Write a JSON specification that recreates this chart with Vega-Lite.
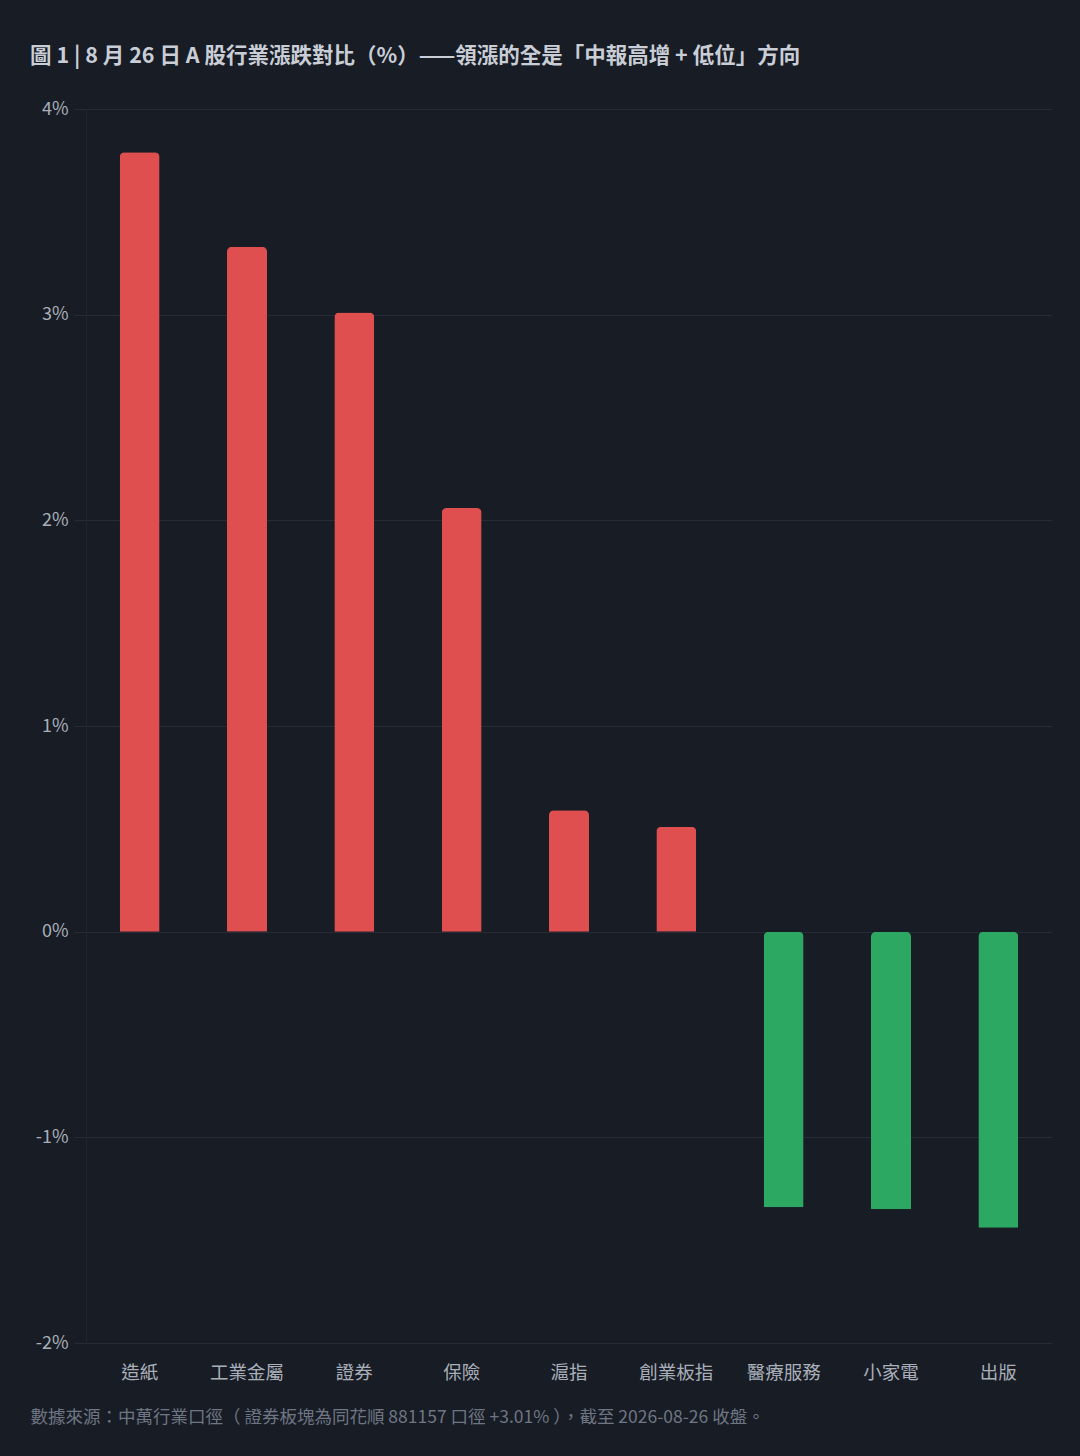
{
  "$schema": "https://vega.github.io/schema/vega-lite/v6.json",
  "autosize": {"type": "none"},
  "width": 966,
  "height": 1234,
  "padding": {"left": 86, "top": 109, "right": 28, "bottom": 113},
  "background": "#181c25",
  "config": {
    "font": "Noto Sans CJK TC",
    "view": {"stroke": null}
  },
  "title": {
    "text": "圖 1 | 8 月 26 日 A 股行業漲跌對比（%）——領漲的全是「中報高增 + 低位」方向",
    "anchor": "start",
    "frame": "group",
    "dx": -56,
    "offset": 33,
    "fontSize": 21.5,
    "fontWeight": 600,
    "color": "#c9ced6"
  },
  "data": {
    "values": [
      {"sector": "造紙", "pct": 3.79},
      {"sector": "工業金屬", "pct": 3.33},
      {"sector": "證券", "pct": 3.01},
      {"sector": "保險", "pct": 2.06},
      {"sector": "滬指", "pct": 0.59},
      {"sector": "創業板指", "pct": 0.51},
      {"sector": "醫療服務", "pct": -1.34},
      {"sector": "小家電", "pct": -1.35},
      {"sector": "出版", "pct": -1.44}
    ]
  },
  "mark": {"type": "bar", "width": 40, "cornerRadiusEnd": 5},
  "encoding": {
    "x": {
      "field": "sector",
      "type": "nominal",
      "sort": null,
      "scale": {"paddingInner": 0, "paddingOuter": 0},
      "axis": {
        "title": "數據來源：中萬行業口徑（ 證券板塊為同花順 881157 口徑 +3.01% ），截至 2026-08-26 收盤。",
        "titleX": -56,
        "titleY": 74,
        "titleAlign": "left",
        "titleAnchor": null,
        "titleBaseline": "middle",
        "titleFontSize": 17.5,
        "titleFontWeight": "normal",
        "titleColor": "#6f7683",
        "labelAngle": 0,
        "labelFontSize": 18.5,
        "labelColor": "#a9afb9",
        "labelPadding": 20,
        "domain": false,
        "ticks": false
      }
    },
    "y": {
      "field": "pct",
      "type": "quantitative",
      "scale": {"domain": [-2, 4], "nice": false},
      "axis": {
        "title": null,
        "values": [-2, -1, 0, 1, 2, 3, 4],
        "labelExpr": "datum.value + '%'",
        "labelFontSize": 18,
        "labelColor": "#a9afb9",
        "labelPadding": 6,
        "tickSize": 12,
        "tickColor": "#262b36",
        "gridColor": "#262b36",
        "domainColor": "#1f2430"
      }
    },
    "color": {
      "condition": {"test": "datum.pct > 0", "value": "#e04f4f"},
      "value": "#2ca862"
    }
  }
}
